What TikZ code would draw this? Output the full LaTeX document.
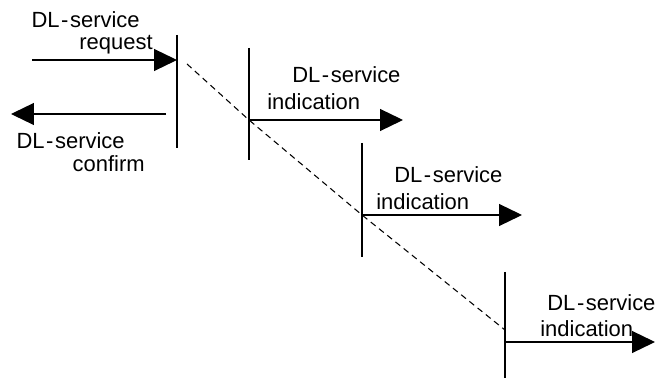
\documentclass[tikz,border=0pt]{standalone}
\usepackage{fontspec}
\setmainfont{Liberation Sans}
\usetikzlibrary{arrows.meta}
\newcommand{\dls}{DL\kern0.9pt-\kern0.9pt service}

\begin{document}
\begin{tikzpicture}[
  x=0.02cm, y=-0.02cm,
  life/.style={line width=0.7pt},
  msg/.style={line width=0.7pt, -{Triangle[length=0.46cm, width=0.44cm]}},
  trace/.style={line width=0.6pt, dash pattern=on 3.5pt off 2.5pt},
  lbl/.style={inner sep=0pt, font=\fontsize{12.5}{13}\selectfont}
]
  \useasboundingbox (0,0) rectangle (656,378);
  % lifelines
  \coordinate (top1) at (177,35);  \coordinate (bot1) at (177,148);
  \coordinate (top2) at (249,48);  \coordinate (bot2) at (249,160);
  \coordinate (top3) at (362,143); \coordinate (bot3) at (362,257);
  \coordinate (top4) at (505,272); \coordinate (bot4) at (505,378);
  \draw[life] (top1) -- (bot1);
  \draw[life] (top2) -- (bot2);
  \draw[life] (top3) -- (bot3);
  \draw[life] (top4) -- (bot4);
  % request / confirm
  \coordinate (reqin) at (32,60);   \coordinate (req) at (177,60);
  \coordinate (cnfin) at (166,114); \coordinate (cnf) at (11,114);
  \draw[msg] (reqin) -- (req);
  \draw[msg] (cnfin) -- (cnf);
  \node[lbl, anchor=east, align=right] (reqlbl) at (153,33) {\dls\hspace*{0.26cm}\\[-0.5pt]request};
  \node[lbl, anchor=east, align=right] (cnflbl) at (145,152.5) {\dls\hspace*{0.4cm}\\confirm};
  % indications
  \coordinate (ind1) at (249,120); \coordinate (out1) at (403,120);
  \coordinate (ind2) at (362,215); \coordinate (out2) at (522,215);
  \coordinate (ind3) at (505,342); \coordinate (out3) at (655,342);
  \draw[msg] (ind1) -- (out1);
  \draw[msg] (ind2) -- (out2);
  \draw[msg] (ind3) -- (out3);
  \node[lbl, anchor=west, align=left] (indlbl1) at (267,88.5) {\hspace*{0.5cm}\dls\\[2.3pt]indication};
  \node[lbl, anchor=west, align=left] (indlbl2) at (376,188.5) {\hspace*{0.36cm}\dls\\[2.3pt]indication};
  \node[lbl, anchor=west, align=left] (indlbl3) at (540,316) {\hspace*{0.14cm}\dls\\[1.8pt]indication};
  % dashed trace
  \coordinate (start) at (187,64);
  \coordinate (stop) at (505,330);
  \draw[trace] (start) -- (ind1) -- (ind2) -- (stop);
\end{tikzpicture}
\end{document}
